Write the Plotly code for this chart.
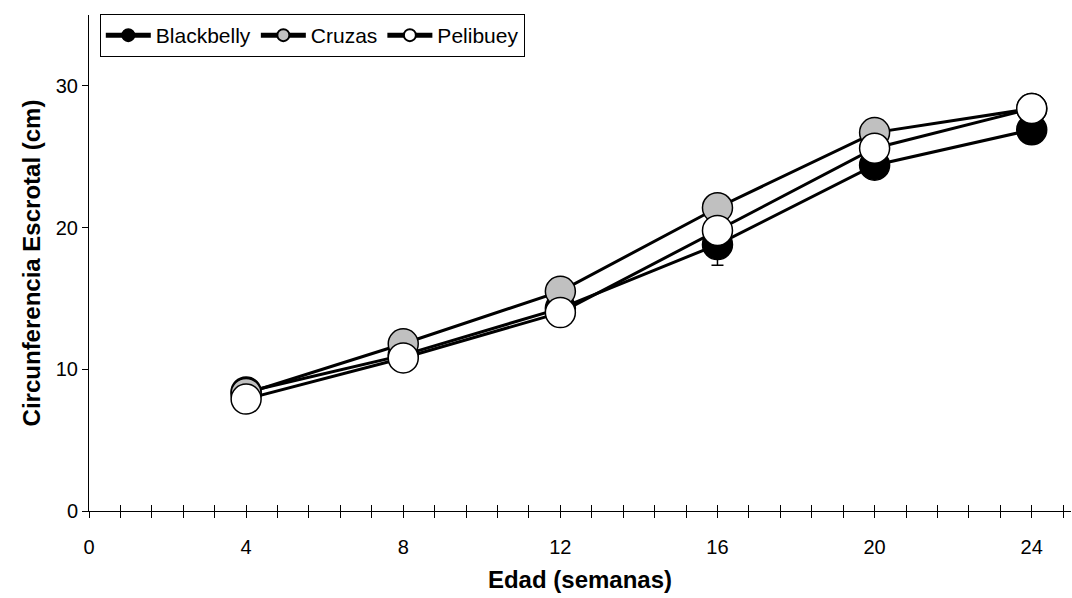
import plotly.graph_objects as go

weeks = [4, 8, 12, 16, 20, 24]
blackbelly = [8.4, 11.0, 14.3, 18.8, 24.4, 26.9]
blackbelly_se = [0.3, 0.3, 0.4, 1.45, 0.6, 0.5]
cruzas = [8.3, 11.8, 15.5, 21.4, 26.7, 28.4]
pelibuey = [7.9, 10.8, 14.0, 19.8, 25.6, 28.4]

x_ticks = [0, 4, 8, 12, 16, 20, 24]
y_ticks = [0, 10, 20, 30]

FONT = "Arial, Liberation Sans, sans-serif"

fig = go.Figure()

# invisible trace to activate the inside-tick overlay axis
fig.add_trace(go.Scatter(x=[0], y=[0], xaxis="x2", yaxis="y", mode="markers",
                         marker=dict(opacity=0), showlegend=False, hoverinfo="skip"))

def add_series(name, y, fill, err=None):
    fig.add_trace(go.Scatter(
        x=weeks, y=y, name=name, mode="lines+markers",
        line=dict(color="black", width=3),
        marker=dict(size=30, color=fill, line=dict(color="black", width=1.5)),
        error_y=(dict(type="data", array=err, visible=True, color="black",
                      thickness=1.5, width=6) if err is not None else None),
        xaxis="x", yaxis="y",
    ))

add_series("Blackbelly", blackbelly, "black", blackbelly_se)
add_series("Cruzas", cruzas, "#c0c0c0")
add_series("Pelibuey", pelibuey, "white")

fig.update_layout(
    width=1072, height=598,
    margin=dict(l=89, r=1, t=15, b=87),
    paper_bgcolor="white", plot_bgcolor="white",
    font=dict(family=FONT, color="black", size=19),
    showlegend=True,
    legend=dict(
        orientation="h", x=0.011, y=1.002, xanchor="left", yanchor="top",
        bgcolor="white", bordercolor="black", borderwidth=1,
        font=dict(size=21, family=FONT), itemsizing="constant",
        itemwidth=45, tracegroupgap=0,
    ),
    xaxis=dict(
        range=[0, 25], tickvals=x_ticks, ticktext=[str(v) for v in x_ticks],
        showgrid=False, zeroline=False, showline=True, linecolor="black", linewidth=1,
        ticks="outside", ticklen=6, tickcolor="black", tickwidth=1,
        minor=dict(dtick=0.8, tick0=0, ticks="outside", ticklen=6, tickcolor="black", tickwidth=1, showgrid=False),
        tickfont=dict(size=20), ticklabelstandoff=12,
        title=dict(text="<b>Edad (semanas)</b>", font=dict(size=24), standoff=14),
    ),
    xaxis2=dict(
        range=[0, 25], overlaying="x", side="bottom", anchor="y",
        tickvals=x_ticks, showticklabels=False, showgrid=False, zeroline=False,
        showline=False, ticks="inside", ticklen=6, tickcolor="black", tickwidth=1,
        minor=dict(dtick=0.8, tick0=0, ticks="inside", ticklen=6, tickcolor="black", tickwidth=1, showgrid=False),
    ),
    yaxis=dict(
        range=[0, 35], tickvals=y_ticks, ticktext=[str(v) for v in y_ticks],
        showgrid=False, zeroline=False, showline=True, linecolor="black", linewidth=1,
        ticks="outside", ticklen=6, tickcolor="black", tickwidth=1,
        tickfont=dict(size=20),
        title=dict(text="<b>Circunferencia Escrotal (cm)</b>", font=dict(size=24), standoff=8),
    ),
)

fig.write_html("out.html")
